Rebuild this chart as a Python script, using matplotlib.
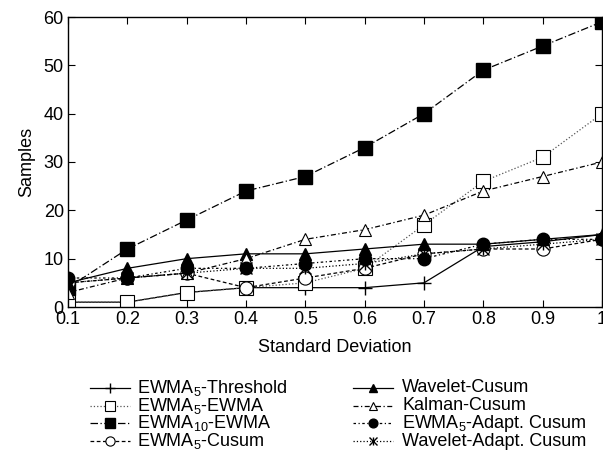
import matplotlib
matplotlib.use('Agg')
import matplotlib.pyplot as plt
from matplotlib.lines import Line2D

plt.rcParams['font.family'] = ['Liberation Sans', 'DejaVu Sans']
plt.rcParams['mathtext.default'] = 'regular'

std_dev = [0.1, 0.2, 0.3, 0.4, 0.5, 0.6, 0.7, 0.8, 0.9, 1.0]
tick_labels = ['0.1', '0.2', '0.3', '0.4', '0.5', '0.6', '0.7', '0.8', '0.9', '1']

ewma5_threshold = [1, 1, 3, 4, 4, 4, 5, 12.5, 13.5, 15]
ewma5_ewma = [1, 1, 3, 4, 5, 8, 17, 26, 31, 40]
ewma10_ewma = [4, 12, 18, 24, 27, 33, 40, 49, 54, 59]
ewma5_cusum = [5, 6, 7, 4, 6, 8, 11, 12, 12, 14]
wavelet_cusum = [5, 8, 10, 11, 11, 12, 13, 13, 14, 15]
kalman_cusum = [3, 6, 7, 10, 14, 16, 19, 24, 27, 30]
ewma5_adapt = [6, 6, 8, 8, 9, 10, 10, 13, 14, 14]
wavelet_adapt = [5, 6, 7, 8, 8, 9, 11, 12, 13, 14]

W, H = 603.0, 454.0
fig = plt.figure(figsize=(6.03, 4.54), dpi=100)
ax = fig.add_axes([68 / W, 1 - 307 / H, 534 / W, 290 / H])

lw = 0.9
styles = [
    dict(ls='-', marker='+', ms=10, mew=1, color='k'),
    dict(ls=':', marker='s', ms=9.5, mfc='white', mec='k', mew=0.8,
         color='#555555'),
    dict(ls=(0, (6, 2, 1, 2)), marker='s', ms=10, color='k'),
    dict(ls=(0, (3, 2)), marker='o', ms=9.5, mfc='white', mew=0.8, color='k'),
    dict(ls='-', marker='^', ms=8.5, color='k'),
    dict(ls=(0, (4, 2, 1, 2)), marker='^', ms=8.5, mfc='white', mew=0.8,
         color='k'),
    dict(ls=(0, (2, 2, 1, 2)), marker='o', ms=9, color='k'),
    dict(ls=':', marker='x', ms=8, mew=1, color='k'),
]
series = [ewma5_threshold, ewma5_ewma, ewma10_ewma, ewma5_cusum,
          wavelet_cusum, kalman_cusum, ewma5_adapt, wavelet_adapt]
labels = [r'EWMA$_5$-Threshold', r'EWMA$_5$-EWMA', r'EWMA$_{10}$-EWMA',
          r'EWMA$_5$-Cusum', 'Wavelet-Cusum', 'Kalman-Cusum',
          r'EWMA$_5$-Adapt. Cusum', 'Wavelet-Adapt. Cusum']

for ys, st in zip(series, styles):
    ax.plot(std_dev, ys, lw=lw, **st)
# the star marker is drawn as x plus a vertical bar
ax.plot(std_dev, wavelet_adapt, ls='none', color='k', marker='|', ms=9, mew=1)

ax.set_xlim(0.1, 1.0)
ax.set_ylim(0, 60)
ax.set_xticks(std_dev)
ax.set_xticklabels(tick_labels)
ax.set_yticks([0, 10, 20, 30, 40, 50, 60])
ax.tick_params(direction='in', top=True, right=True, labelsize=13,
               length=5, width=0.8, pad=3)
for s in ax.spines.values():
    s.set_linewidth(1)

ax.set_xlabel('Standard Deviation', fontsize=13, labelpad=8)
ax.set_ylabel('Samples', fontsize=13, labelpad=6)

# legend drawn by hand so that both columns share the same row heights
rows_y = [388, 406, 423, 441]
cols_x = [(90, 130, 137), (353, 393, 402)]
for i, (lab, st) in enumerate(zip(labels, styles)):
    x0, x1, xt = cols_x[i // 4]
    y = 1 - rows_y[i % 4] / H
    st = dict(st)
    st['ms'] = st['ms'] * 0.7
    fig.add_artist(Line2D([x0 / W, (x0 + x1) / 2 / W, x1 / W], [y, y, y],
                          transform=fig.transFigure, lw=lw, markevery=[1],
                          **st))
    if i == 7:
        fig.add_artist(Line2D([(x0 + x1) / 2 / W], [y], ls='none', color='k',
                              marker='|', ms=6.3, mew=1,
                              transform=fig.transFigure))
    fig.text(xt / W, y, lab, fontsize=13, va='center', ha='left')

fig.savefig('out.png', dpi=100)
